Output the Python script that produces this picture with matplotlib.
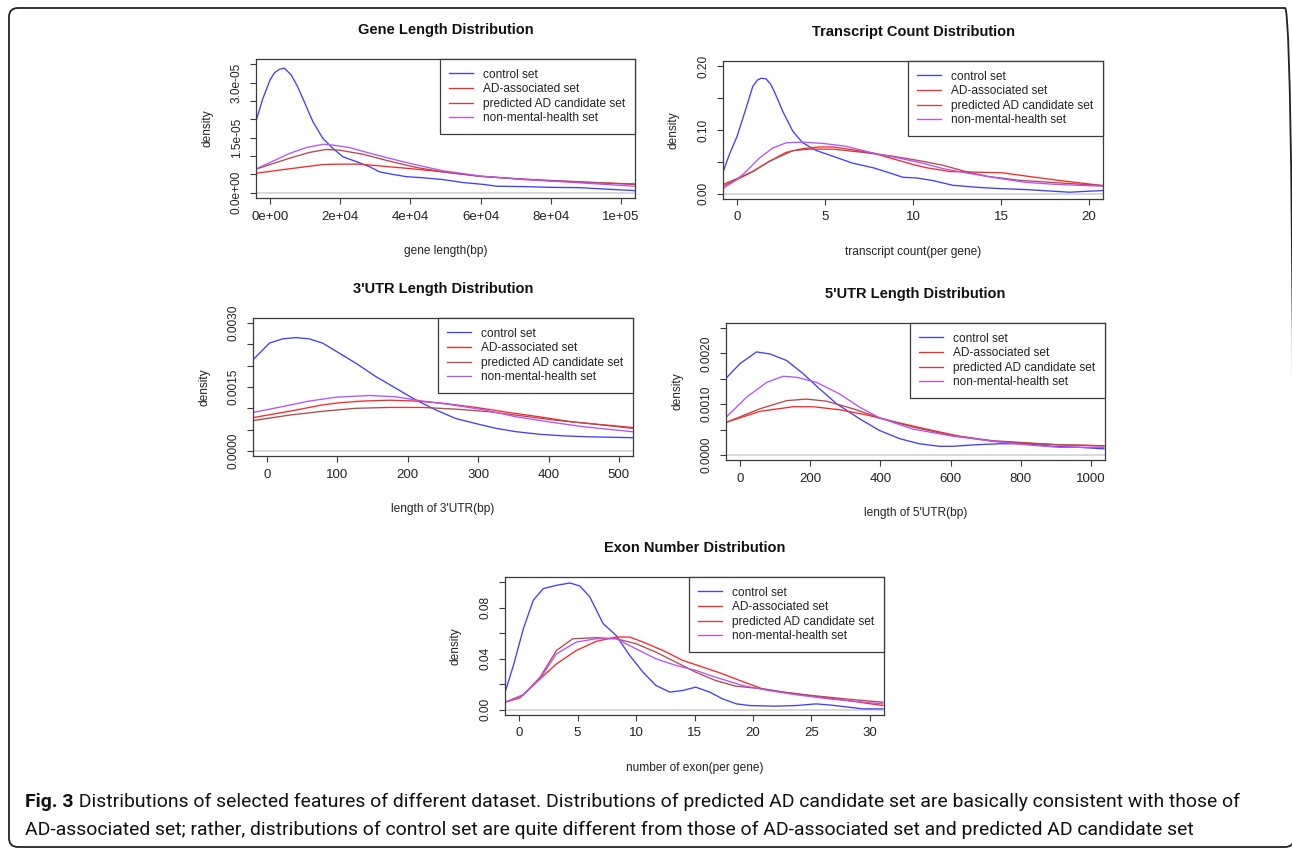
import matplotlib
matplotlib.use("Agg")
import matplotlib.pyplot as plt
from matplotlib.patches import FancyBboxPatch
from matplotlib.transforms import IdentityTransform
from matplotlib import font_manager

# ---------------- data ----------------
series_labels = ["control set", "AD-associated set", "predicted AD candidate set", "non-mental-health set"]
series_colors = ["#3f3fff", "#ff2626", "#b84848", "#b452ff"]

# Gene length
gene_control_x = [-4190, -2100, 0, 1300, 2670, 4100, 6000, 7700, 9330, 12190, 15050, 17900, 20760, 24570,
                  28380, 31240, 35050, 38860, 43620, 49330, 55050, 60760, 64570, 72190, 79810, 88380, 96000,
                  104100]
gene_control_y = [1.89e-5, 2.55e-5, 3.07e-5, 3.27e-5, 3.36e-5, 3.39e-5, 3.21e-5, 2.92e-5, 2.57e-5, 1.94e-5,
                  1.48e-5, 1.21e-5, 9.8e-6, 8.5e-6, 7.1e-6, 5.7e-6, 5.0e-6, 4.4e-6, 4.1e-6, 3.6e-6, 2.8e-6,
                  2.3e-6, 1.8e-6, 1.7e-6, 1.5e-6, 1.4e-6, 1.0e-6, 6e-7]
gene_ad_x = [-4190, 6000, 15050, 19800, 25520, 30290, 39810, 49330, 59810, 69330, 79810, 91240, 104100]
gene_ad_y = [5.3e-6, 6.6e-6, 7.7e-6, 7.8e-6, 7.8e-6, 7.4e-6, 6.6e-6, 5.7e-6, 4.5e-6, 3.9e-6, 3.3e-6, 2.8e-6, 2.4e-6]
gene_pred_x = [-4190, 5520, 11240, 16000, 19810, 26480, 34100, 41710, 49330, 59810, 72190, 81710, 104100]
gene_pred_y = [6.4e-6, 9.4e-6, 1.1e-5, 1.18e-5, 1.16e-5, 1.05e-5, 8.6e-6, 6.9e-6, 5.7e-6, 4.5e-6, 3.7e-6, 3.3e-6, 2.3e-6]
gene_nmh_x = [-4190, 5520, 10290, 15050, 17900, 22670, 30290, 39810, 49330, 59810, 72190, 81710, 104100]
gene_nmh_y = [6.4e-6, 1.07e-5, 1.23e-5, 1.32e-5, 1.3e-5, 1.23e-5, 1.03e-5, 8.0e-6, 6.0e-6, 4.6e-6, 3.6e-6, 3.1e-6, 1.8e-6]
gene_xticks = [0, 20000, 40000, 60000, 80000, 100000]
gene_xticklabels = ["0e+00", "2e+04", "4e+04", "6e+04", "8e+04", "1e+05"]
gene_yticks = [0, 5e-6, 1e-5, 1.5e-5, 2e-5, 2.5e-5, 3e-5, 3.5e-5]
gene_yticklabels = ["0.0e+00", "", "", "1.5e-05", "", "", "3.0e-05", ""]

# Transcript count
tc_control_x = [-0.815, -0.44, 0, 0.51, 0.89, 1.15, 1.36, 1.65, 1.9, 2.12, 2.6, 3.17, 3.73, 4.49, 5.44, 6.58,
                7.72, 8.66, 9.42, 10.18, 11.1, 12.26, 13.6, 14.9, 16.4, 17.95, 18.9, 20.0, 20.8]
tc_control_y = [0.0328, 0.0615, 0.090, 0.134, 0.168, 0.178, 0.181, 0.180, 0.172, 0.160, 0.129, 0.098, 0.080,
                0.068, 0.059, 0.048, 0.041, 0.033, 0.026, 0.025, 0.021, 0.0135, 0.0104, 0.0083, 0.0068,
                0.0042, 0.0026, 0.0042, 0.0052]
tc_ad_x = [-0.815, 0, 0.89, 1.84, 2.79, 3.73, 4.68, 5.44, 6.58, 7.72, 8.85, 10.0, 10.75, 12.1, 13.6, 15.1,
           16.4, 18.3, 20.8]
tc_ad_y = [0.012, 0.0224, 0.035, 0.051, 0.065, 0.0708, 0.0734, 0.0734, 0.069, 0.064, 0.055, 0.046, 0.041,
           0.035, 0.034, 0.033, 0.028, 0.021, 0.013]
tc_pred_x = [-0.815, 0, 0.89, 1.84, 3.17, 4.11, 5.44, 6.96, 8.85, 10.56, 11.7, 13.0, 14.2, 16.0, 18.3, 20.8]
tc_pred_y = [0.0146, 0.024, 0.035, 0.051, 0.0677, 0.070, 0.070, 0.0656, 0.059, 0.051, 0.0448, 0.035, 0.0276,
             0.0214, 0.0172, 0.013]
tc_nmh_x = [-0.815, 0, 0.51, 1.27, 2.03, 2.79, 3.73, 4.87, 6.2, 7.72, 9.2, 10.56, 11.7, 13.0, 14.5, 16.4,
            18.3, 20.8]
tc_nmh_y = [0.0083, 0.0224, 0.035, 0.056, 0.0719, 0.080, 0.081, 0.079, 0.0745, 0.064, 0.056, 0.048, 0.0396,
            0.033, 0.026, 0.018, 0.0146, 0.012]
tc_xticks = [0, 5, 10, 15, 20]
tc_xticklabels = ["0", "5", "10", "15", "20"]
tc_yticks = [0, 0.05, 0.10, 0.15, 0.20]
tc_yticklabels = ["0.00", "", "0.10", "", "0.20"]

# 3'UTR length
u3_control_x = [-20.3, -10.9, 3.3, 22, 41, 60, 79, 103, 126, 155, 183, 212, 240, 268, 297, 325, 354, 387,
                424, 458, 519]
u3_control_y = [0.002136, 0.00229, 0.00253, 0.00263, 0.00266, 0.00263, 0.00253, 0.00229, 0.00206, 0.00174,
                0.00147, 0.00119, 0.00096, 0.00076, 0.00064, 0.00053, 0.00045, 0.00039, 0.00035, 0.00033,
                0.00031]
u3_ad_x = [-20.3, 31.7, 79, 103, 136, 174, 212, 249, 297, 344, 387, 434, 519]
u3_ad_y = [0.00078, 0.00093, 0.00108, 0.00113, 0.00117, 0.00119, 0.00117, 0.00112, 0.00102, 0.00090,
           0.00080, 0.00068, 0.00055]
u3_pred_x = [-20.3, 31.7, 79, 126, 174, 221, 268, 316, 363, 410, 458, 519]
u3_pred_y = [0.00071, 0.00084, 0.00093, 0.00100, 0.00102, 0.00102, 0.00098, 0.00092, 0.00082, 0.00072,
             0.00064, 0.00053]
u3_nmh_x = [-20.3, 22, 60, 98, 145, 183, 221, 259, 306, 354, 401, 448, 519]
u3_nmh_y = [0.00090, 0.00104, 0.00117, 0.00126, 0.00130, 0.00127, 0.00117, 0.00109, 0.00097, 0.00080,
            0.00068, 0.00057, 0.00045]
u3_xticks = [0, 100, 200, 300, 400, 500]
u3_xticklabels = ["0", "100", "200", "300", "400", "500"]
u3_yticks = [0, 0.0005, 0.0010, 0.0015, 0.0020, 0.0025, 0.0030]
u3_yticklabels = ["0.0000", "", "", "0.0015", "", "", "0.0030"]

# 5'UTR length
u5_control_x = [-40, 0, 47, 85, 133, 180, 227, 275, 341, 398, 455, 511, 568, 606, 672, 739, 814, 890, 966, 1037]
u5_control_y = [0.00151, 0.0018, 0.00203, 0.00199, 0.00186, 0.0016, 0.0013, 0.00101, 0.00071, 0.00048,
                0.00032, 0.00022, 0.00017, 0.00017, 0.0002, 0.00022, 0.00022, 0.00017, 0.00015, 0.00012]
u5_ad_x = [-40, 57, 152, 208, 284, 360, 436, 530, 625, 720, 814, 909, 1037]
u5_ad_y = [0.00064, 0.00086, 0.00095, 0.00095, 0.00089, 0.00079, 0.00066, 0.00051, 0.00037, 0.00027,
           0.00023, 0.0002, 0.00018]
u5_pred_x = [-40, 57, 133, 189, 246, 322, 398, 492, 606, 720, 814, 909, 1037]
u5_pred_y = [0.00064, 0.00091, 0.00107, 0.0011, 0.00106, 0.00091, 0.00073, 0.00055, 0.00038, 0.00028,
             0.00024, 0.0002, 0.00018]
u5_nmh_x = [-40, 19, 76, 123, 161, 218, 284, 341, 398, 492, 606, 720, 814, 909, 1037]
u5_nmh_y = [0.00074, 0.00114, 0.00143, 0.00155, 0.00153, 0.00143, 0.0012, 0.00094, 0.00073, 0.00051,
            0.00037, 0.00027, 0.0002, 0.00015, 0.00015]
u5_xticks = [0, 200, 400, 600, 800, 1000]
u5_xticklabels = ["0", "200", "400", "600", "800", "1000"]
u5_yticks = [0, 0.0005, 0.0010, 0.0015, 0.0020, 0.0025]
u5_yticklabels = ["0.0000", "", "0.0010", "", "0.0020", ""]

# Exon number
ex_control_x = [-1.19, -0.48, 0.37, 1.22, 2.07, 3.2, 4.35, 5.2, 6.05, 7.19, 8.3, 9.46, 10.6, 11.7, 12.9, 14.0,
                15.1, 16.3, 17.4, 18.6, 19.7, 21.9, 23.7, 25.4, 26.5, 28.2, 29.4, 31.1]
ex_control_y = [0.0139, 0.0348, 0.0635, 0.0858, 0.0949, 0.0975, 0.0993, 0.097, 0.0884, 0.0675, 0.0583,
                0.0426, 0.0295, 0.0191, 0.0139, 0.0152, 0.0178, 0.0139, 0.0086, 0.0047, 0.0034, 0.0029,
                0.0034, 0.0047, 0.0039, 0.0021, 0.0008, 0.0008]
ex_ad_x = [-1.19, 0.08, 1.5, 3.2, 4.9, 6.6, 8.3, 9.46, 10.6, 12.3, 14.0, 15.7, 17.4, 19.1, 20.8, 22.6, 24.8,
           27.1, 31.1]
ex_ad_y = [0.006, 0.0094, 0.0217, 0.036, 0.0465, 0.0536, 0.057, 0.057, 0.0531, 0.0465, 0.0387, 0.0335,
           0.0282, 0.0222, 0.0165, 0.0139, 0.0112, 0.0086, 0.0034]
ex_pred_x = [-1.19, 0.37, 1.8, 3.2, 4.6, 6.6, 8.3, 10.0, 11.7, 13.4, 15.1, 16.8, 18.5, 20.8, 22.6, 25.1,
             27.9, 31.1]
ex_pred_y = [0.006, 0.0118, 0.0256, 0.0465, 0.0557, 0.0565, 0.0557, 0.0518, 0.0452, 0.0374, 0.0295, 0.023,
             0.0186, 0.0165, 0.0139, 0.0112, 0.0086, 0.006]
ex_nmh_x = [-1.19, 0.37, 1.8, 3.2, 4.9, 6.6, 8.3, 10.0, 11.7, 13.4, 15.1, 16.8, 19.1, 21.3, 23.7, 26.5, 31.1]
ex_nmh_y = [0.006, 0.0118, 0.0243, 0.0439, 0.0531, 0.0557, 0.0557, 0.0478, 0.040, 0.0348, 0.0309, 0.0256,
            0.0191, 0.0152, 0.0118, 0.0086, 0.0047]
ex_xticks = [0, 5, 10, 15, 20, 25, 30]
ex_xticklabels = ["0", "5", "10", "15", "20", "25", "30"]
ex_yticks = [0, 0.02, 0.04, 0.06, 0.08, 0.10]
ex_yticklabels = ["0.00", "", "0.04", "", "0.08", ""]

titles = ["Gene Length Distribution", "Transcript Count Distribution", "3'UTR Length Distribution",
          "5'UTR Length Distribution", "Exon Number Distribution"]
xlabels = ["gene length(bp)", "transcript count(per gene)", "length of 3'UTR(bp)",
           "length of 5'UTR(bp)", "number of exon(per gene)"]

caption_bold = "Fig. 3"
caption_line1 = (" Distributions of selected features of different dataset. Distributions of predicted AD "
                 "candidate set are basically consistent with those of")
caption_line2 = ("AD-associated set; rather, distributions of control set are quite different from those of "
                 "AD-associated set and predicted AD candidate set")

# ---------------- figure ----------------
W, H = 1292, 848
plt.rcParams["font.family"] = ["Liberation Sans", "DejaVu Sans"]
fig = plt.figure(figsize=(W / 100, H / 100), dpi=100)
fig.patch.set_facecolor("white")

panels = [
    dict(box=(256, 59, 635, 198), xlim=(0, 100000), ylim=(0, 3.5e-5),
         series=[(gene_control_x, gene_control_y), (gene_ad_x, gene_ad_y), (gene_pred_x, gene_pred_y),
                 (gene_nmh_x, gene_nmh_y)],
         xt=(gene_xticks, gene_xticklabels), yt=(gene_yticks, gene_yticklabels)),
    dict(box=(723, 61, 1103, 199), xlim=(0, 20),  ylim=(0, 0.2),
         series=[(tc_control_x, tc_control_y), (tc_ad_x, tc_ad_y), (tc_pred_x, tc_pred_y),
                 (tc_nmh_x, tc_nmh_y)],
         xt=(tc_xticks, tc_xticklabels), yt=(tc_yticks, tc_yticklabels)),
    dict(box=(253, 318, 633, 456), xlim=(0, 500), ylim=(0, 0.003),
         series=[(u3_control_x, u3_control_y), (u3_ad_x, u3_ad_y), (u3_pred_x, u3_pred_y),
                 (u3_nmh_x, u3_nmh_y)],
         xt=(u3_xticks, u3_xticklabels), yt=(u3_yticks, u3_yticklabels)),
    dict(box=(726, 323, 1105, 460), xlim=(0, 1000), ylim=(0, 0.0025),
         series=[(u5_control_x, u5_control_y), (u5_ad_x, u5_ad_y), (u5_pred_x, u5_pred_y),
                 (u5_nmh_x, u5_nmh_y)],
         xt=(u5_xticks, u5_xticklabels), yt=(u5_yticks, u5_yticklabels)),
    dict(box=(505, 577, 884, 715), xlim=(0, 30), ylim=(0, 0.10),
         series=[(ex_control_x, ex_control_y), (ex_ad_x, ex_ad_y), (ex_pred_x, ex_pred_y),
                 (ex_nmh_x, ex_nmh_y)],
         xt=(ex_xticks, ex_xticklabels), yt=(ex_yticks, ex_yticklabels)),
]

TXT = "#222222"
EDGE = "#3a3a3a"

for i, p in enumerate(panels):
    l, t, r, b = p["box"]
    ax = fig.add_axes([l / W, 1 - b / H, (r - l) / W, (b - t) / H])
    ah = b - t
    aw = r - l
    x0, x1 = p["xlim"]
    y0, y1 = p["ylim"]
    dx, dy = 0.04 * (x1 - x0), 0.04 * (y1 - y0)
    ax.set_xlim(x0 - dx, x1 + dx)
    ax.set_ylim(y0 - dy, y1 + dy)
    ax.axhline(0, color="#d6d6d6", lw=1.3, zorder=1)
    for (xs, ys), lab, col in zip(p["series"], series_labels, series_colors):
        ax.plot(xs, ys, color=col, lw=0.95, label=lab, zorder=2)
    ax.set_xticks(p["xt"][0])
    ax.set_xticklabels(p["xt"][1])
    ax.set_yticks(p["yt"][0])
    ax.set_yticklabels(p["yt"][1], rotation=90, va="center")
    ax.tick_params(axis="both", direction="out", length=4.5, width=0.8, color=EDGE, labelcolor=TXT)
    ax.tick_params(axis="x", labelsize=9.5, pad=4.5)
    ax.tick_params(axis="y", labelsize=8.6, pad=5)
    for s in ax.spines.values():
        s.set_color(EDGE)
        s.set_linewidth(0.9)
    ax.set_xlabel(xlabels[i], fontsize=8.6, color=TXT, va="center")
    ax.xaxis.set_label_coords(0.5, -53 / ah)
    ax.set_ylabel("density", fontsize=8.6, color=TXT, va="center")
    ax.yaxis.set_label_coords(-49 / aw, 0.5)
    ax.text(0.5, 1 + 29 / ah, titles[i], transform=ax.transAxes, ha="center", va="center",
            fontsize=10.5, fontweight="bold", color="#111111")
    leg = ax.legend(loc="upper right", bbox_to_anchor=(1, 1), borderaxespad=0, fancybox=False,
                    frameon=True, edgecolor=EDGE, framealpha=1, fontsize=8.6, handlelength=2.0,
                    handletextpad=0.85, borderpad=0.8, labelspacing=0.22)
    leg.get_frame().set_linewidth(0.9)
    for txt in leg.get_texts():
        txt.set_color(TXT)

# outer rounded frame
frame = FancyBboxPatch((9, H - 847), 1294 - 9, 847 - 8, boxstyle="round,pad=0,rounding_size=9",
                       transform=IdentityTransform(), facecolor="none", edgecolor="#222222", lw=1.3)
fig.patches.append(frame)

# caption
def has_font(name):
    try:
        font_manager.findfont(font_manager.FontProperties(family=name), fallback_to_default=False)
        return True
    except Exception:
        return False

cap_family = next((f for f in ["Liberation Sans Narrow", "Roboto", "Open Sans"] if has_font(f)), "DejaVu Sans")

fig.canvas.draw()
renderer = fig.canvas.get_renderer()
fs0 = 12.0
cx0, cx1 = 25, 1235
tb = fig.text(cx0 / W, 1 - 807 / H, caption_bold, fontsize=fs0, fontweight="bold", family=cap_family,
              va="baseline", ha="left", color="#111111")
tr = fig.text(0.5, 1 - 807 / H, caption_line1, fontsize=fs0, family=cap_family, va="baseline", ha="left",
              color="#111111")
wb = tb.get_window_extent(renderer).width
wr = tr.get_window_extent(renderer).width
fs = fs0 * (cx1 - cx0) / (wb + wr)
tb.set_fontsize(fs)
tr.set_fontsize(fs)
wb = tb.get_window_extent(renderer).width
tr.set_x((cx0 + wb) / W)
fig.text(cx0 / W, 1 - 835 / H, caption_line2, fontsize=fs, family=cap_family, va="baseline", ha="left",
         color="#111111")

fig.savefig("out.png", dpi=100)
